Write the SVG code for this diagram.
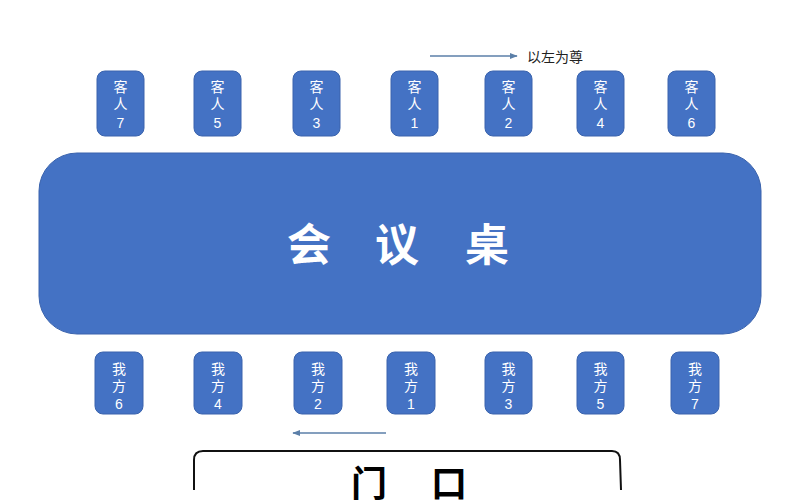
<svg xmlns="http://www.w3.org/2000/svg" width="791" height="500" viewBox="0 0 791 500">
<defs>
<style>
.seat{fill:#4472C4;stroke:#3A63AD;stroke-width:1}
.st{fill:#fff;font-family:"Liberation Sans","Noto Sans CJK SC",sans-serif;font-size:14px;text-anchor:middle}
.big{fill:#fff;font-family:"Noto Sans CJK SC",sans-serif;font-size:44px;font-weight:bold;text-anchor:middle}
.door{fill:#000;font-family:"Noto Sans CJK SC",sans-serif;font-size:36px;font-weight:bold;text-anchor:middle}
.arr{stroke:#5B7FA8;stroke-width:1.3;fill:none}
</style>
<marker id="ah" viewBox="0 0 10 10" refX="9" refY="5" markerWidth="6" markerHeight="6" orient="auto"><path d="M0,1 L10,5 L0,9 z" fill="#5B7FA8"/></marker>
</defs>
<rect width="791" height="500" fill="#fff"/>
<g id="table">
<rect x="39" y="153" width="722" height="181" rx="38" fill="#4472C4" stroke="#3A63AD"/>
<text class="big" x="309" y="261">会</text>
<text class="big" x="397" y="261">议</text>
<text class="big" x="487" y="261">桌</text>
</g>
<g id="guest7"><rect class="seat" x="97" y="71" width="47" height="65" rx="8"/><text class="st" x="120.5" y="92">客</text><text class="st" x="120.5" y="109">人</text><text class="st" x="120.5" y="128">7</text></g>
<g id="guest5"><rect class="seat" x="194" y="71" width="47" height="65" rx="8"/><text class="st" x="217.5" y="92">客</text><text class="st" x="217.5" y="109">人</text><text class="st" x="217.5" y="128">5</text></g>
<g id="guest3"><rect class="seat" x="293" y="71" width="47" height="65" rx="8"/><text class="st" x="316.5" y="92">客</text><text class="st" x="316.5" y="109">人</text><text class="st" x="316.5" y="128">3</text></g>
<g id="guest1"><rect class="seat" x="391" y="71" width="47" height="65" rx="8"/><text class="st" x="414.5" y="92">客</text><text class="st" x="414.5" y="109">人</text><text class="st" x="414.5" y="128">1</text></g>
<g id="guest2"><rect class="seat" x="485" y="71" width="47" height="65" rx="8"/><text class="st" x="508.5" y="92">客</text><text class="st" x="508.5" y="109">人</text><text class="st" x="508.5" y="128">2</text></g>
<g id="guest4"><rect class="seat" x="577" y="71" width="47" height="65" rx="8"/><text class="st" x="600.5" y="92">客</text><text class="st" x="600.5" y="109">人</text><text class="st" x="600.5" y="128">4</text></g>
<g id="guest6"><rect class="seat" x="668" y="71" width="47" height="65" rx="8"/><text class="st" x="691.5" y="92">客</text><text class="st" x="691.5" y="109">人</text><text class="st" x="691.5" y="128">6</text></g>
<g id="host6"><rect class="seat" x="95" y="352" width="48" height="62" rx="8"/><text class="st" x="119" y="374">我</text><text class="st" x="119" y="391">方</text><text class="st" x="119" y="409">6</text></g>
<g id="host4"><rect class="seat" x="194" y="352" width="48" height="62" rx="8"/><text class="st" x="218" y="374">我</text><text class="st" x="218" y="391">方</text><text class="st" x="218" y="409">4</text></g>
<g id="host2"><rect class="seat" x="294" y="352" width="48" height="62" rx="8"/><text class="st" x="318" y="374">我</text><text class="st" x="318" y="391">方</text><text class="st" x="318" y="409">2</text></g>
<g id="host1"><rect class="seat" x="387" y="352" width="48" height="62" rx="8"/><text class="st" x="411" y="374">我</text><text class="st" x="411" y="391">方</text><text class="st" x="411" y="409">1</text></g>
<g id="host3"><rect class="seat" x="485" y="352" width="47" height="62" rx="8"/><text class="st" x="508.5" y="374">我</text><text class="st" x="508.5" y="391">方</text><text class="st" x="508.5" y="409">3</text></g>
<g id="host5"><rect class="seat" x="577" y="352" width="47" height="62" rx="8"/><text class="st" x="600.5" y="374">我</text><text class="st" x="600.5" y="391">方</text><text class="st" x="600.5" y="409">5</text></g>
<g id="host7"><rect class="seat" x="671" y="352" width="48" height="62" rx="8"/><text class="st" x="695" y="374">我</text><text class="st" x="695" y="391">方</text><text class="st" x="695" y="409">7</text></g>
<g id="connectors">
<line class="arr" x1="430" y1="56" x2="517" y2="56" marker-end="url(#ah)"/>
<line class="arr" x1="386" y1="433" x2="293" y2="433" marker-end="url(#ah)"/>
</g>
<text x="527" y="62" font-family="'Noto Sans CJK SC',sans-serif" font-size="14" fill="#222">以左为尊</text>
<g id="door">
<path d="M194,490 L194,460 Q194,451 203,451 L612,451 Q620,451 620,460 L621,490" fill="none" stroke="#111" stroke-width="2"/>
<text class="door" x="369" y="497">门</text>
<text class="door" x="449" y="497">口</text>
</g>
</svg>
